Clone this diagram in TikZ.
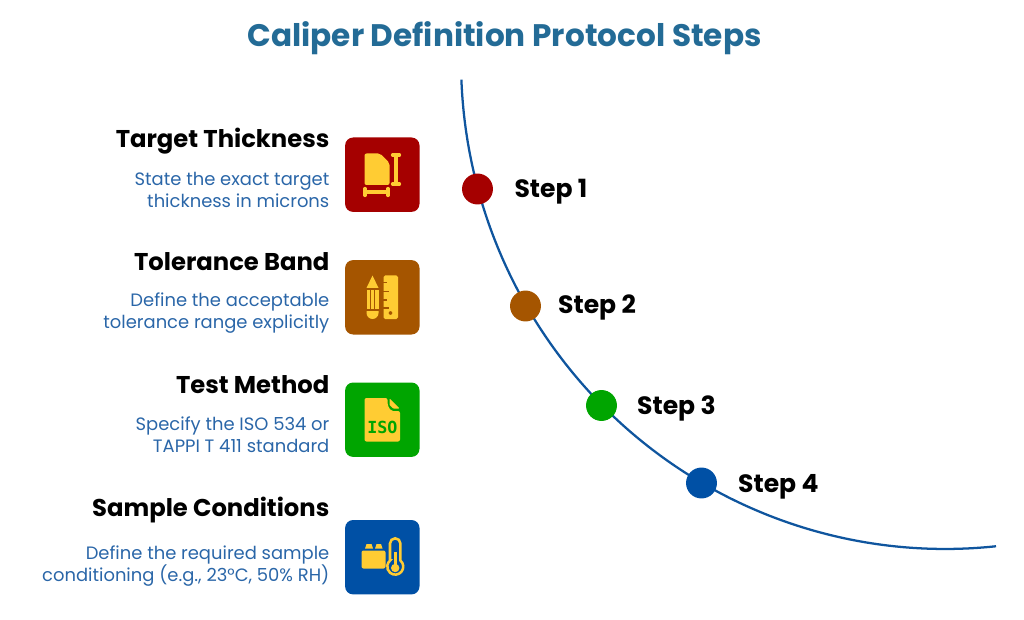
\documentclass[tikz,border=0pt]{standalone}
\usepackage{fontspec}
\setmainfont{Poppins}
\newfontfamily\isofont{DejaVu Sans Mono}
\usetikzlibrary{positioning}
\definecolor{titleblue}{HTML}{236B96}
\definecolor{textblue}{HTML}{2A66A8}
\definecolor{curveblue}{HTML}{0F559E}
\definecolor{stepred}{HTML}{A50000}
\definecolor{stepbrown}{HTML}{A55500}
\definecolor{stepgreen}{HTML}{00A500}
\definecolor{stepblue}{HTML}{0050A5}
\definecolor{iconyellow}{HTML}{FFCC33}
\tikzset{
  headtext/.style={anchor=base east, inner sep=0pt, font=\fontsize{18.2pt}{20pt}\selectfont\bfseries, text=black},
  desctext/.style={anchor=east, inner sep=0pt, align=right, font=\fontsize{13.45pt}{16.5pt}\selectfont, text=textblue},
  iconbox/.style={draw=none, shape=rectangle, rounded corners=6pt, minimum size=55.8pt, inner sep=0pt},
  stepdot/.style={draw=none, shape=circle, minimum size=23.2pt, inner sep=0pt},
  steptext/.style={inner sep=0pt, font=\fontsize{18.8pt}{21pt}\selectfont\bfseries, text=black},
  iconfill/.style={fill=iconyellow, draw=none},
  iconline/.style={draw=iconyellow, line cap=round},
}
\begin{document}
\begin{tikzpicture}[x=0.75pt,y=-0.75pt]
  \useasboundingbox (0,0) rectangle (1024,620);

  \node[inner sep=0pt, text=titleblue, font=\fontsize{23.35pt}{27pt}\selectfont\bfseries] (title) at (504.5,38) {Caliper Definition Protocol Steps};

  \coordinate (curvestart) at (461.4,79.7);
  \draw[curveblue, line width=1.7pt] (curvestart) arc[start angle=177.8, end angle=83.95, x radius=484, y radius=488];

  \node[stepdot,fill=stepred] (dot1) at (477.5,189) {};
  \node[stepdot,fill=stepbrown] (dot2) at (525.5,306) {};
  \node[stepdot,fill=stepgreen] (dot3) at (601.5,405.5) {};
  \node[stepdot,fill=stepblue] (dot4) at (701.5,483) {};
  \node[steptext,right=21 of dot1,yshift=-2.2pt] (step1) {Step 1};
  \node[steptext,right=16.7 of dot2,yshift=-0.8pt] (step2) {Step 2};
  \node[steptext,right=19.7 of dot3,yshift=-1.9pt] (step3) {Step 3};
  \node[steptext,right=20.7 of dot4,yshift=-3pt] (step4) {Step 4};

  \node[iconbox,fill=stepred] (box1) at (382.3,174.7) {};
  \node[iconbox,fill=stepbrown] (box2) at (382.3,297.3) {};
  \node[iconbox,fill=stepgreen] (box3) at (382.3,419.7) {};
  \node[iconbox,fill=stepblue] (box4) at (382.3,557.2) {};

  \node[headtext] (head1) at (329.6,148) {Target Thickness};
  \node[desctext] (desc1) at (329.6,190.3) {State the exact target\\thickness in microns};
  \node[headtext] (head2) at (329.6,271) {Tolerance Band};
  \node[desctext] (desc2) at (329.6,313) {Define the acceptable\\tolerance range explicitly};
  \node[headtext] (head3) at (329.6,393.6) {Test Method};
  \node[desctext] (desc3) at (329.6,435) {Specify the ISO 534 or\\TAPPI T 411 standard};
  \node[headtext] (head4) at (329.6,516.3) {Sample Conditions};
  \node[desctext] (desc4) at (329.6,566) {Define the required sample\\conditioning (e.g., 23°C, 50\% RH)};

  % thickness icon
  \fill[iconfill, rounded corners=1.5pt] (364.5,153.5) -- (380,153.5) -- (389.5,163) -- (389.5,185) -- (364.5,185) -- cycle;
  \draw[iconline, line width=2.4pt] (396,155) -- (396,184);
  \draw[iconline, line width=2.4pt] (392.5,155) -- (399.5,155);
  \draw[iconline, line width=2.4pt] (392.5,184) -- (399.5,184);
  \draw[iconline, line width=2.4pt] (365,192) -- (388,192);
  \draw[iconline, line width=2.4pt] (365,188.5) -- (365,195.5);
  \draw[iconline, line width=2.4pt] (388,188.5) -- (388,195.5);

  % pencil and ruler icon
  \fill[iconfill] (366.5,288) -- (372.5,275.5) -- (378.5,288) -- cycle;
  \fill[iconfill] (366.5,290) rectangle (370,309);
  \fill[iconfill] (371,290) rectangle (374,309);
  \fill[iconfill] (375,290) rectangle (378.5,309);
  \fill[iconfill] (366.5,311) -- (378.5,311) -- (378.5,313) arc[start angle=0, end angle=180, radius=6] -- cycle;
  \fill[iconfill, rounded corners=1.2pt, even odd rule] (383.5,275.5) -- (398,275.5) -- (398,319) -- (383.5,319) -- cycle (390.5,313) circle[radius=2];
  \fill[stepbrown] (383,282) rectangle (387,283.5);
  \fill[stepbrown] (383,290.5) rectangle (389,292);
  \fill[stepbrown] (383,299) rectangle (387,300.5);
  \fill[stepbrown] (383,307) rectangle (389,308.5);

  % standard document icon
  \fill[iconfill, rounded corners=1.5pt] (364.5,398) -- (387.5,398) -- (387.5,405) -- (391,411) -- (400,411) -- (400,441.5) -- (364.5,441.5) -- cycle;
  \fill[iconfill, rounded corners=0.6pt] (389.5,398.5) -- (399.5,408.5) -- (393,408.5) -- (389.5,405) -- cycle;
  \node[inner sep=0pt, text=stepgreen, font=\fontsize{12.5pt}{14pt}\selectfont\isofont\bfseries] (isotext) at (382.3,427) {ISO};

  % conditioning icon
  \fill[iconfill, rounded corners=1.5pt] (361.5,550.5) rectangle (385.5,568.5);
  \fill[iconfill] (365,548.5) -- (366.5,544) -- (371.5,544) -- (373,548.5) -- cycle;
  \fill[iconfill] (375,548.5) -- (376.5,544) -- (381,544) -- (382.5,548.5) -- cycle;
  \draw[iconline, line width=1.9pt] (390,560.5) -- (390,543.5) arc[start angle=180, end angle=360, radius=5.2] -- (400.4,560.5) arc[start angle=-50, end angle=230, radius=8] -- cycle;
  \fill[iconfill] (393.7,552) rectangle (396.7,566);
  \fill[iconfill] (395.2,568) circle[radius=4.2];
\end{tikzpicture}
\end{document}
